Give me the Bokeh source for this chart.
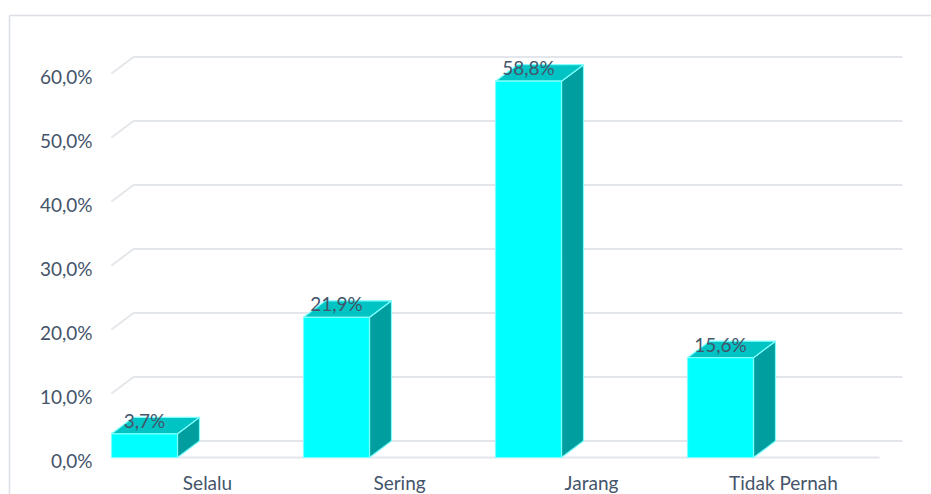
from bokeh.plotting import figure
from bokeh.models import Range1d, ColumnDataSource
from bokeh.core.properties import value
from bokeh.embed import file_html
from bokeh.resources import INLINE

# ---- data ----
categories = ["Selalu", "Sering", "Jarang", "Tidak Pernah"]
percentages = [3.7, 21.9, 58.8, 15.6]
y_ticks = [0, 10, 20, 30, 40, 50, 60]
y_tick_labels = ["0,0%", "10,0%", "20,0%", "30,0%", "40,0%", "50,0%", "60,0%"]
value_labels = [f"{v:.1f}".replace(".", ",") + "%" for v in percentages]

# ---- geometry (pixel scale of the drawing) ----
W_PX, H_PX = 931, 494
X0_PX = 111          # left edge of the first category slot
SLOT_PX = 192        # pixels per category
Y0_PX = 457          # pixel row of 0 %
PX_PER_PCT = 6.4     # pixels per 1 %

BAR_W = 66 / SLOT_PX
DX = 22 / SLOT_PX            # 3D depth offset in x units
DY = 16.5 / PX_PER_PCT       # 3D depth offset in % units
GRID_END = (902 - X0_PX) / SLOT_PX
FLOOR_END = (879 - X0_PX) / SLOT_PX

FONT = value("Lato")
TXT = "#44546A"
GRID = "#E3E6EB"

x_range = Range1d(-X0_PX / SLOT_PX, (W_PX - X0_PX) / SLOT_PX)
y_range = Range1d(-(H_PX - Y0_PX) / PX_PER_PCT, Y0_PX / PX_PER_PCT)

p = figure(width=W_PX, height=H_PX, x_range=x_range, y_range=y_range,
           x_axis_type=None, y_axis_type=None, toolbar_location=None,
           output_backend="svg", min_border=0)
p.outline_line_color = None
p.grid.visible = False
p.background_fill_color = "white"
p.border_fill_color = "white"

def px_x(px):
    return (px - X0_PX) / SLOT_PX

def px_y(py):
    return (Y0_PX - py) / PX_PER_PCT

# outer chart border (top and left)
p.segment(x0=[px_x(9), px_x(9)], y0=[px_y(15), px_y(15)],
          x1=[px_x(W_PX + 5), px_x(9)], y1=[px_y(15), px_y(H_PX + 5)],
          line_color="#DCE0E6", line_width=1.5)

# gridlines: short diagonal on the side wall + back wall horizontal line
diag_xs = [[0, DX] for _ in y_ticks]
diag_ys = [[t, t + DY] for t in y_ticks]
p.multi_line(xs=diag_xs, ys=diag_ys, line_color=GRID, line_width=2)
p.segment(x0=[DX] * len(y_ticks), y0=[t + DY for t in y_ticks],
          x1=[GRID_END] * len(y_ticks), y1=[t + DY for t in y_ticks],
          line_color=GRID, line_width=2)
# front floor edge
p.segment(x0=[0], y0=[0], x1=[FLOOR_END], y1=[0], line_color=GRID, line_width=2)

# y tick labels
p.text(x=[px_x(92)] * len(y_ticks), y=[t - 0.45 for t in y_ticks], text=y_tick_labels,
       text_font=FONT, text_font_size="19px", text_color=TXT,
       text_align="right", text_baseline="middle")

# 3D bars
idx = list(range(len(categories)))
left = [float(i) for i in idx]
right = [i + BAR_W for i in idx]

top_xs = [[l, r, r + DX, l + DX] for l, r in zip(left, right)]
top_ys = [[v, v, v + DY, v + DY] for v in percentages]
side_xs = [[r, r + DX, r + DX, r] for r in right]
side_ys = [[0, DY, v + DY, v] for v in percentages]

EDGE = "#7FFFFF"
p.patches(xs=side_xs, ys=side_ys, fill_color="#009E9E", line_color=EDGE, line_width=1.2)
p.patches(xs=top_xs, ys=top_ys, fill_color="#00C4C4", line_color=EDGE, line_width=1.2)
src = ColumnDataSource(dict(left=left, right=right, top=percentages,
                            bottom=[0] * len(idx)))
p.quad(left="left", right="right", top="top", bottom="bottom", source=src,
       fill_color="#00FFFF", line_color=EDGE, line_width=1.2)

# value labels
p.text(x=[l + BAR_W / 2 for l in left], y=[v + DY - 0.45 for v in percentages],
       text=value_labels, text_font=FONT, text_font_size="19px", text_color=TXT,
       text_align="center", text_baseline="alphabetic")

# category labels
p.text(x=[i + 0.5 for i in idx], y=[px_y(470)] * len(idx), text=categories,
       text_font=FONT, text_font_size="19px", text_color=TXT,
       text_align="center", text_baseline="top")

open("out.html", "w").write(file_html(p, INLINE))
